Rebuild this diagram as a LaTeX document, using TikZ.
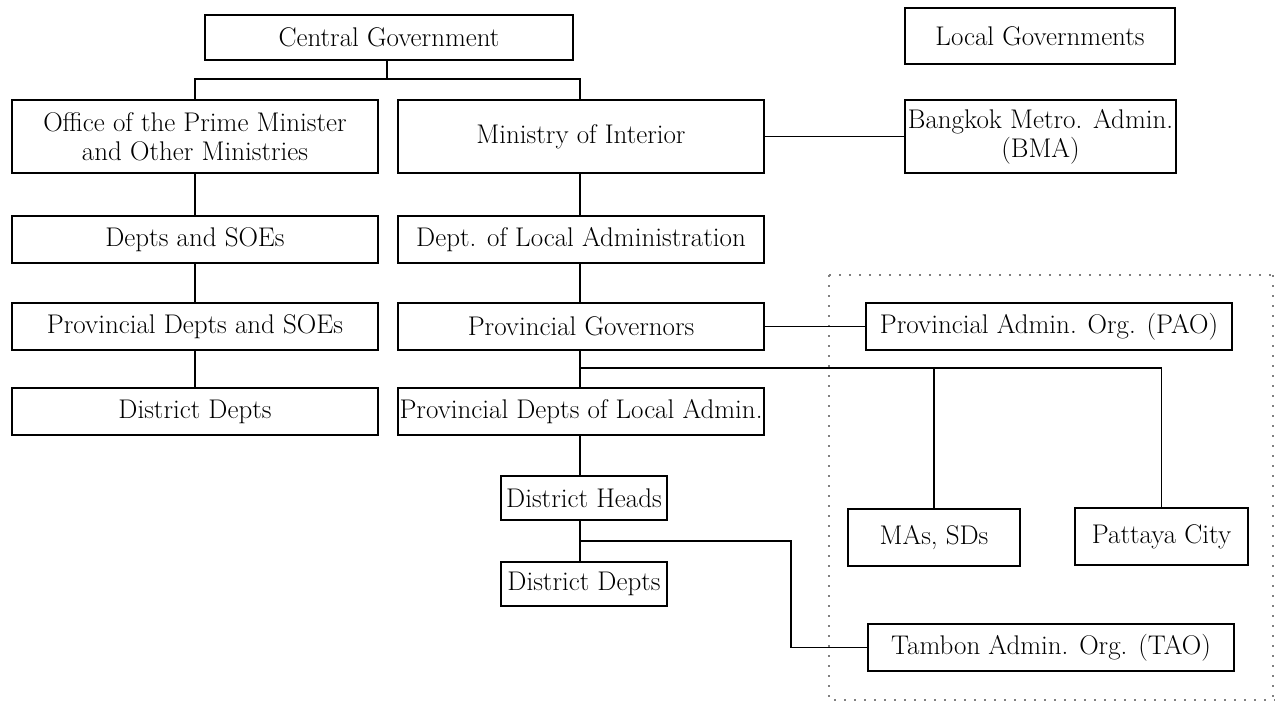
\documentclass[tikz,border=0pt]{standalone}
\usepackage{fontspec}
\begin{document}
\begin{tikzpicture}[x=1pt,y=-1pt,
  box/.style={draw, line width=1.3pt, inner sep=0pt, align=center,
    font=\fontsize{27}{29}\selectfont},
  conn/.style={line width=1.2pt},
  dotbox/.style={draw=gray, line width=1.5pt, dash pattern=on 1.5pt off 8.5pt}]
\useasboundingbox (0,0) rectangle (1275,702);
% dotted region of local governments
\draw[dotbox] (829,275) -- (1275,275);
\draw[dotbox] (829,275) -- (829,700) -- (1275,700);
\draw[dotbox] (1273,275) -- (1273,700);
% nodes
\node[box, minimum width=368pt, minimum height=45pt] (cg) at (389,37.5) {Central Government};
\node[box, minimum width=270pt, minimum height=56pt] (lg) at (1040,36) {Local Governments};
\node[box, minimum width=366pt, minimum height=73pt] (opm) at (195,136.5) {Office of the Prime Minister\\and Other Ministries};
\node[box, minimum width=366pt, minimum height=73pt] (moi) at (581,136.5) {Ministry of Interior};
\node[box, minimum width=271pt, minimum height=73pt] (bma) at (1040.5,136.5) {Bangkok Metro. Admin.\\(BMA)};
\node[box, minimum width=366pt, minimum height=47pt] (dso) at (195,239.5) {Depts and SOEs};
\node[box, minimum width=366pt, minimum height=47pt] (dla) at (581,239.5) {Dept. of Local Administration};
\node[box, minimum width=366pt, minimum height=47pt] (pds) at (195,326.5) {Provincial Depts and SOEs};
\node[box, minimum width=366pt, minimum height=47pt] (pg) at (581,326.5) {Provincial Governors};
\node[box, minimum width=366pt, minimum height=47pt] (pao) at (1049,326.5) {Provincial Admin. Org. (PAO)};
\node[box, minimum width=366pt, minimum height=47pt] (dd1) at (195,411.5) {District Depts};
\node[box, minimum width=366pt, minimum height=47pt] (pdla) at (581,411.5) {Provincial Depts of Local Admin.};
\node[box, minimum width=166pt, minimum height=44pt] (dh) at (584,498) {District Heads};
\node[box, minimum width=166pt, minimum height=44pt] (dd2) at (584,584) {District Depts};
\node[box, minimum width=172pt, minimum height=57pt] (mas) at (934,537.5) {MAs, SDs};
\node[box, minimum width=173pt, minimum height=57pt] (pc) at (1161.5,536.5) {Pattaya City};
\node[box, minimum width=366pt, minimum height=47pt] (tao) at (1051,647.5) {Tambon Admin. Org. (TAO)};
% junction points
\coordinate (j1) at (387,79);
\coordinate (j2) at (580,368);
\coordinate (j3) at (580,541);
\coordinate (j4) at (791,541);
% connectors
\draw[conn] (cg.south -| j1) -- (j1);
\draw[conn] (opm.north) |- (j1) -| (moi.north -| j2);
\draw[conn] (opm.south) -- (dso.north);
\draw[conn] (dso.south) -- (pds.north);
\draw[conn] (pds.south) -- (dd1.north);
\draw[conn] (moi.south -| j2) -- (dla.north -| j2);
\draw[conn] (dla.south -| j2) -- (pg.north -| j2);
\draw[conn] (pg.south -| j2) -- (pdla.north -| j2);
\draw[conn] (pdla.south -| j2) -- (dh.north -| j2);
\draw[conn] (dh.south -| j2) -- (dd2.north -| j2);
\draw[conn] (moi.east) -- (bma.west);
\draw[conn] (pg.east) -- (pao.west);
\draw[conn] (j2) -| (mas.north);
\draw[conn] (j2) -| (pc.north);
\draw[conn] (j3) -- (j4) |- (tao.west);
\end{tikzpicture}
\end{document}
